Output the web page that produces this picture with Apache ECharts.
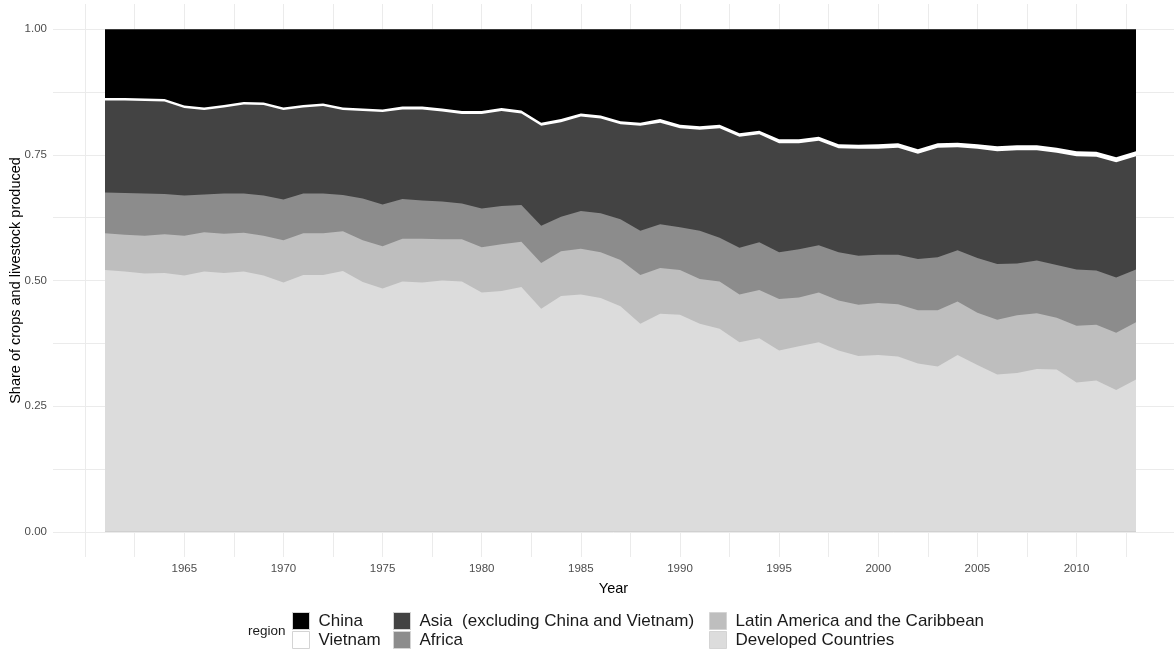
<!DOCTYPE html>
<html>
<head>
<meta charset="utf-8">
<script src="https://cdn.jsdelivr.net/npm/echarts@6/dist/echarts.min.js"></script>
<style>
  html, body { margin: 0; padding: 0; background: #ffffff; }
  #chart { width: 1174px; height: 655px; }
</style>
</head>
<body>
<div id="chart"></div>
<script>
// Years covered by the series
const years = [
  1961, 1962, 1963, 1964, 1965, 1966, 1967, 1968, 1969, 1970,
  1971, 1972, 1973, 1974, 1975, 1976, 1977, 1978, 1979, 1980,
  1981, 1982, 1983, 1984, 1985, 1986, 1987, 1988, 1989, 1990,
  1991, 1992, 1993, 1994, 1995, 1996, 1997, 1998, 1999, 2000,
  2001, 2002, 2003, 2004, 2005, 2006, 2007, 2008, 2009, 2010,
  2011, 2012, 2013
];

// Share of world crops and livestock produced, by region (each year sums to 1)
const developed = [
  0.521, 0.518, 0.514, 0.515, 0.510, 0.518, 0.515, 0.518, 0.510, 0.496,
  0.511, 0.511, 0.519, 0.497, 0.484, 0.498, 0.496, 0.500, 0.498, 0.476,
  0.479, 0.487, 0.444, 0.469, 0.472, 0.465, 0.449, 0.414, 0.434, 0.432,
  0.414, 0.404, 0.377, 0.385, 0.361, 0.369, 0.377, 0.361, 0.350, 0.352,
  0.349, 0.335, 0.329, 0.352, 0.332, 0.313, 0.316, 0.324, 0.323, 0.297,
  0.301, 0.282, 0.303
];
const latinAmerica = [
  0.073, 0.073, 0.075, 0.077, 0.079, 0.078, 0.078, 0.077, 0.079, 0.084,
  0.083, 0.083, 0.079, 0.083, 0.084, 0.085, 0.087, 0.082, 0.084, 0.090,
  0.093, 0.090, 0.091, 0.089, 0.091, 0.091, 0.092, 0.097, 0.091, 0.089,
  0.089, 0.094, 0.095, 0.096, 0.102, 0.097, 0.099, 0.099, 0.102, 0.103,
  0.104, 0.106, 0.112, 0.106, 0.104, 0.109, 0.115, 0.111, 0.103, 0.113,
  0.111, 0.114, 0.114
];
const africa = [
  0.081, 0.083, 0.084, 0.080, 0.080, 0.075, 0.080, 0.078, 0.080, 0.081,
  0.079, 0.079, 0.072, 0.083, 0.083, 0.079, 0.076, 0.075, 0.071, 0.077,
  0.076, 0.073, 0.074, 0.069, 0.075, 0.078, 0.081, 0.088, 0.087, 0.085,
  0.096, 0.087, 0.093, 0.095, 0.093, 0.096, 0.094, 0.096, 0.097, 0.096,
  0.098, 0.102, 0.105, 0.102, 0.109, 0.111, 0.103, 0.105, 0.105, 0.112,
  0.108, 0.110, 0.105
];
const asia = [
  0.183, 0.184, 0.184, 0.184, 0.174, 0.168, 0.171, 0.177, 0.180, 0.178,
  0.171, 0.174, 0.169, 0.174, 0.184, 0.178, 0.181, 0.179, 0.178, 0.188,
  0.189, 0.182, 0.199, 0.188, 0.188, 0.188, 0.189, 0.209, 0.202, 0.197,
  0.201, 0.218, 0.221, 0.215, 0.217, 0.211, 0.208, 0.207, 0.213, 0.211,
  0.213, 0.209, 0.218, 0.205, 0.217, 0.224, 0.225, 0.219, 0.223, 0.225,
  0.226, 0.229, 0.225
];
const vietnam = [
  0.005, 0.005, 0.005, 0.005, 0.005, 0.005, 0.005, 0.005, 0.005, 0.005,
  0.005, 0.005, 0.005, 0.005, 0.005, 0.006, 0.006, 0.006, 0.006, 0.006,
  0.006, 0.006, 0.006, 0.006, 0.006, 0.006, 0.006, 0.006, 0.007, 0.007,
  0.007, 0.007, 0.007, 0.007, 0.008, 0.008, 0.008, 0.008, 0.008, 0.009,
  0.009, 0.009, 0.009, 0.009, 0.009, 0.010, 0.010, 0.010, 0.010, 0.010,
  0.010, 0.010, 0.010
];
const china = [
  0.137, 0.137, 0.138, 0.139, 0.152, 0.156, 0.151, 0.145, 0.146, 0.156,
  0.151, 0.148, 0.156, 0.158, 0.160, 0.154, 0.154, 0.158, 0.163, 0.163,
  0.157, 0.162, 0.186, 0.179, 0.168, 0.172, 0.183, 0.186, 0.179, 0.190,
  0.193, 0.190, 0.207, 0.202, 0.219, 0.219, 0.214, 0.229, 0.230, 0.229,
  0.227, 0.239, 0.227, 0.226, 0.229, 0.233, 0.231, 0.231, 0.236, 0.243,
  0.244, 0.255, 0.243
];

// Axis breaks
const xLabelBreaks = [1965, 1970, 1975, 1980, 1985, 1990, 1995, 2000, 2005, 2010];
const xGridBreaks = [1960, 1962.5, 1965, 1967.5, 1970, 1972.5, 1975, 1977.5, 1980, 1982.5,
  1985, 1987.5, 1990, 1992.5, 1995, 1997.5, 2000, 2002.5, 2005, 2007.5, 2010, 2012.5];
const yLabelBreaks = [0, 0.25, 0.5, 0.75, 1];
const yGridBreaks = [0, 0.125, 0.25, 0.375, 0.5, 0.625, 0.75, 0.875, 1];

// Regions, bottom of the stack first
const regions = [
  { name: 'Developed Countries', values: developed, color: '#dcdcdc' },
  { name: 'Latin America and the Caribbean', values: latinAmerica, color: '#bebebe' },
  { name: 'Africa', values: africa, color: '#8c8c8c' },
  { name: 'Asia  (excluding China and Vietnam)', values: asia, color: '#434343' },
  { name: 'Vietnam', values: vietnam, color: '#ffffff' },
  { name: 'China', values: china, color: '#000000' }
];

// Running totals: the upper edge of each region's band
const bandTops = [];
regions.forEach((r, k) => {
  bandTops.push(years.map((y, i) => (k ? bandTops[k - 1][i] : 0) + r.values[i]));
});

// Horizontal scale: plot area is 1121 px wide starting at x = 53; the first and
// last years fall on whole pixels so the band edges stay crisp.
const PLOT_LEFT = 53, PLOT_WIDTH = 1121;
const FIRST_PX = 52, SPAN_PX = 1031;            // offsets of 1961 and 1961→2013 span
const pxPerYear = SPAN_PX / (years[years.length - 1] - years[0]);
const xMin = years[0] - FIRST_PX / pxPerYear;
const xMax = xMin + PLOT_WIDTH / pxPerYear;

const FONT = '"Liberation Sans", Arial, Helvetica, sans-serif';

const chart = echarts.init(document.getElementById('chart'), null, { renderer: 'canvas' });

const legendBase = {
  orient: 'vertical',
  top: 612,
  padding: 0,
  itemWidth: 17,
  itemHeight: 17,
  itemGap: 1,
  icon: 'rect',
  selectedMode: false,
  itemStyle: { borderColor: '#d4d4d4', borderWidth: 1 },
  textStyle: { fontFamily: FONT, fontSize: 17, color: '#1a1a1a', padding: [0, 0, 0, 4] }
};

// Each band is filled from the baseline up to its running total; the
// highest band is painted first so the lower ones sit on top of it.
const series = regions.map((r, k) => ({
  name: r.name,
  type: 'line',
  data: years.map((y, i) => [y, bandTops[k][i]]),
  symbol: 'none',
  showSymbol: false,
  lineStyle: { width: 0 },
  itemStyle: { color: r.color },
  areaStyle: { color: r.color, opacity: 1, origin: 'auto' },
  emphasis: { disabled: true },
  silent: true
})).reverse();

chart.setOption({
  animation: false,
  backgroundColor: '#ffffff',
  textStyle: { fontFamily: FONT },
  title: {
    text: 'region',
    left: 248,
    top: 624,
    padding: 0,
    textStyle: { fontFamily: FONT, fontSize: 13.5, fontWeight: 'normal', color: '#1a1a1a' }
  },
  legend: [
    Object.assign({}, legendBase, { left: 292, data: ['China', 'Vietnam'] }),
    Object.assign({}, legendBase, { left: 393, data: ['Asia  (excluding China and Vietnam)', 'Africa'] }),
    Object.assign({}, legendBase, { left: 709, data: ['Latin America and the Caribbean', 'Developed Countries'] })
  ],
  grid: { left: PLOT_LEFT, width: PLOT_WIDTH, top: 4, height: 553, containLabel: false, outerBoundsMode: 'none' },
  xAxis: {
    type: 'value',
    min: xMin,
    max: xMax,
    name: 'Year',
    nameLocation: 'middle',
    nameGap: 24,
    nameMoveOverlap: false,
    nameTextStyle: { fontFamily: FONT, fontSize: 14.5, color: '#000000' },
    axisLine: { show: false },
    axisTick: { show: false, customValues: xGridBreaks },
    axisLabel: {
      customValues: xLabelBreaks,
      margin: 6,
      fontFamily: FONT,
      fontSize: 11.5,
      color: '#4d4d4d',
      formatter: v => String(v)
    },
    splitLine: { show: true, lineStyle: { color: '#ebebeb', width: 1 } }
  },
  yAxis: {
    type: 'value',
    min: -0.05,
    max: 1.05,
    name: 'Share of crops and livestock produced',
    nameLocation: 'middle',
    nameGap: 30,
    nameMoveOverlap: false,
    nameTextStyle: { fontFamily: FONT, fontSize: 14.5, color: '#000000' },
    axisLine: { show: false },
    axisTick: { show: false, customValues: yGridBreaks },
    axisLabel: {
      customValues: yLabelBreaks,
      margin: 6,
      fontFamily: FONT,
      fontSize: 11.5,
      color: '#4d4d4d',
      formatter: v => v.toFixed(2)
    },
    splitLine: { show: true, lineStyle: { color: '#ebebeb', width: 1 } }
  },
  series: series
});
</script>
</body>
</html>
